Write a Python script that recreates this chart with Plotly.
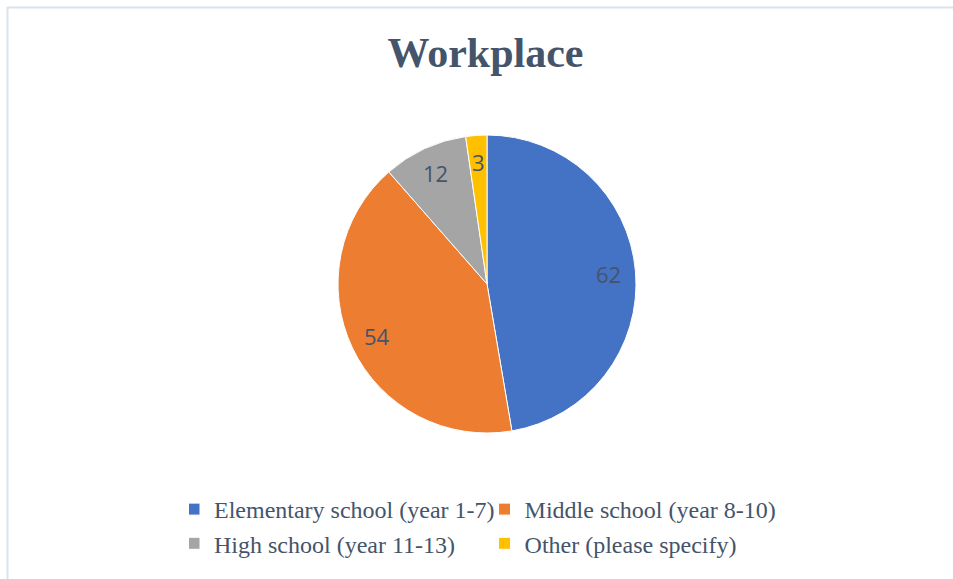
import numpy as np
import plotly.graph_objects as go

labels = ["Elementary school (year 1-7)", "Middle school (year 8-10)",
          "High school (year 11-13)", "Other (please specify)"]
values = [62, 54, 12, 3]
colors = ["#4472C4", "#ED7D31", "#A5A5A5", "#FFC000"]
title_text = "Workplace"

W, H = 953, 579
ML, MR = 139, 122          # side margins (keep legend at two columns)
PW = W - ML - MR
cx, cy, r = 487, 284, 149
label_frac = 0.82


def xp(px):
    return (px - ML) / PW


def yp(py):
    return 1 - py / H


fig = go.Figure(go.Pie(
    labels=labels,
    values=values,
    sort=False,
    direction="clockwise",
    rotation=0,
    marker=dict(colors=colors, line=dict(color="white", width=1)),
    textinfo="none",
    domain=dict(x=[xp(cx - r), xp(cx + r)], y=[yp(cy + r), yp(cy - r)]),
    hoverinfo="label+value",
))

vals = np.array(values, dtype=float)
cum = np.cumsum(vals) - vals / 2
mid = cum / vals.sum() * 2 * np.pi
annotations = []
for v, a in zip(values, mid):
    px = cx + label_frac * r * np.sin(a)
    py = cy - label_frac * r * np.cos(a)
    annotations.append(dict(x=xp(px), y=yp(py), xref="paper", yref="paper",
                            xanchor="center", yanchor="middle",
                            text=str(v), showarrow=False,
                            font=dict(family="Open Sans", size=22, color="#44546A")))

fig.update_layout(
    width=W, height=H,
    margin=dict(l=ML, r=MR, t=0, b=0),
    paper_bgcolor="white",
    plot_bgcolor="white",
    title=dict(text="<b>" + title_text + "</b>", x=485.5 / W, xanchor="center",
               y=1 - 52 / H, yanchor="middle",
               font=dict(family="Liberation Serif", size=42, color="#44546A")),
    showlegend=True,
    legend=dict(orientation="h", x=0.5, xanchor="center", y=yp(487), yanchor="top",
                indentation=-15,
                font=dict(family="Liberation Serif", size=24, color="#44546A"),
                bgcolor="rgba(0,0,0,0)"),
    annotations=annotations,
    shapes=[
        dict(type="line", xref="paper", yref="paper", x0=xp(7), x1=xp(W), y0=yp(7.5), y1=yp(7.5),
             line=dict(color="#DEE3E8", width=2)),
        dict(type="line", xref="paper", yref="paper", x0=xp(7.5), x1=xp(7.5), y0=0, y1=yp(7),
             line=dict(color="#DEE3E8", width=2)),
    ],
)

fig.write_html("out.html", config={"displayModeBar": False},
               post_script="document.body.style.margin='0';")
